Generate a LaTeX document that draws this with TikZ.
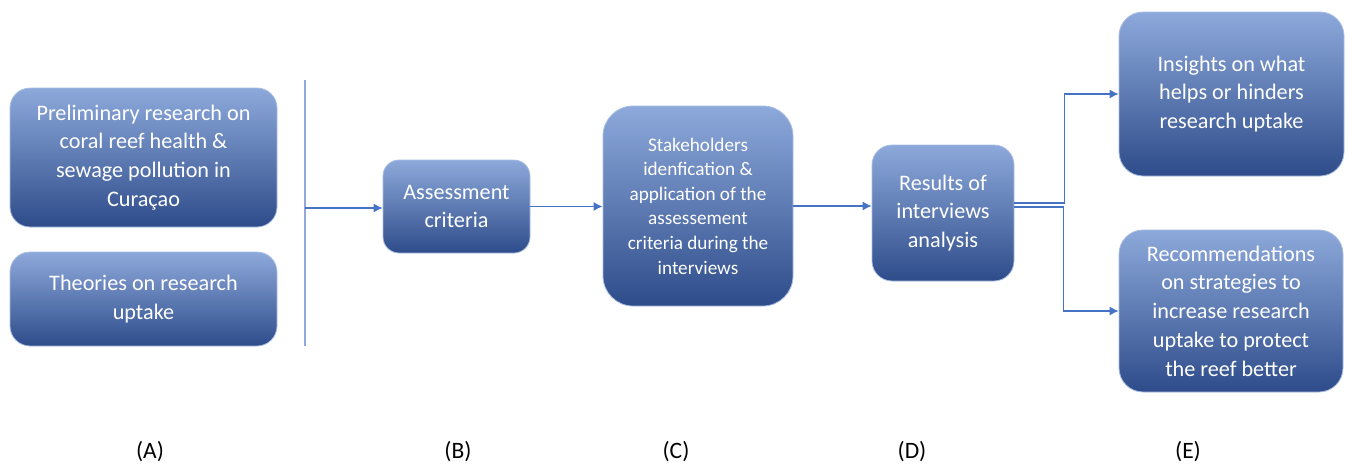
\documentclass[tikz,border=0pt]{standalone}
\usepackage{fontspec}
\setmainfont{Carlito}
\usepackage{tikz}
\usetikzlibrary{arrows.meta,calc,positioning}
\definecolor{boxtop}{HTML}{8DA9DB}
\definecolor{boxmid}{HTML}{4472C4}
\definecolor{boxbot}{HTML}{2E4C8A}
\definecolor{boxedge}{HTML}{A9BDE3}
\definecolor{flowblue}{HTML}{4472C4}
\definecolor{barblue}{HTML}{8FAADC}

\tikzset{
  stage/.style={rounded corners=10pt,top color=boxtop,middle color=boxmid,bottom color=boxbot,
    draw=boxedge,line width=0.4pt,text=white,align=center,inner sep=2pt,
    font=\fontsize{11.1}{14.35}\selectfont},
  flow/.style={->,draw=flowblue,line width=0.6pt},
  tag/.style={font=\fontsize{11.75}{14}\selectfont}
}

\begin{document}
\begin{tikzpicture}[x=0.5pt,y=-0.5pt,>={Latex[length=4.5pt,width=4.5pt]}]
\useasboundingbox (0,0) rectangle (1350,466);
% inputs
\node[stage,minimum width=133.5pt,minimum height=69.5pt] (prelim) at (143.5,157.5)
  {Preliminary research on\\coral reef health \&\\sewage pollution in\\Curaçao};
\node[stage,minimum width=133.5pt,minimum height=47pt] (theory) at (143.5,299)
  {Theories on research\\uptake};
\draw[barblue,line width=0.6pt] (305,80) coordinate (bartop) -- (305,346) coordinate (barbot);
\coordinate (split) at (305,208);
% main steps
\node[stage,rounded corners=8pt,minimum width=73.5pt,minimum height=46.5pt] (criteria) at (456.5,206.5)
  {Assessment\\criteria};
\node[stage,rounded corners=15pt,minimum width=95pt,minimum height=100pt,
  font=\fontsize{9.6}{12.3}\selectfont] (interviews) at (698,206)
  {Stakeholders\\idenfication \&\\application of the\\assessement\\criteria during the\\interviews};
\node[stage,minimum width=71pt,minimum height=68pt] (results) at (943,213)
  {Results of\\interviews\\analysis};
% outcomes
\node[stage,rounded corners=12pt,minimum width=112.5pt,minimum height=82pt] (insights) at (1231.5,94)
  {Insights on what\\helps or hinders\\research uptake};
\node[stage,rounded corners=12pt,minimum width=112pt,minimum height=81pt] (recomm) at (1231,311)
  {Recommendations\\on strategies to\\increase research\\uptake to protect\\the reef better};
% connectors
\draw[flow] (split) -- (split -| criteria.west);
\draw[flow] (criteria.east) -- (criteria.east -| interviews.west);
\draw[flow] (interviews.east) -- (interviews.east -| results.west);
\draw[flow] ([yshift=5pt]results.east) -- ++(50,0) |- (insights.west);
\draw[flow] ([yshift=3pt]results.east) -- ++(49,0) |- (recomm.west);
% column letters
\node[tag] (la) at (150,452) {(A)};
\node[tag] (lb) at (458,452) {(B)};
\node[tag] (lc) at (676,452) {(C)};
\node[tag] (ld) at (912,452) {(D)};
\node[tag] (le) at (1188,452) {(E)};
\end{tikzpicture}
\end{document}
